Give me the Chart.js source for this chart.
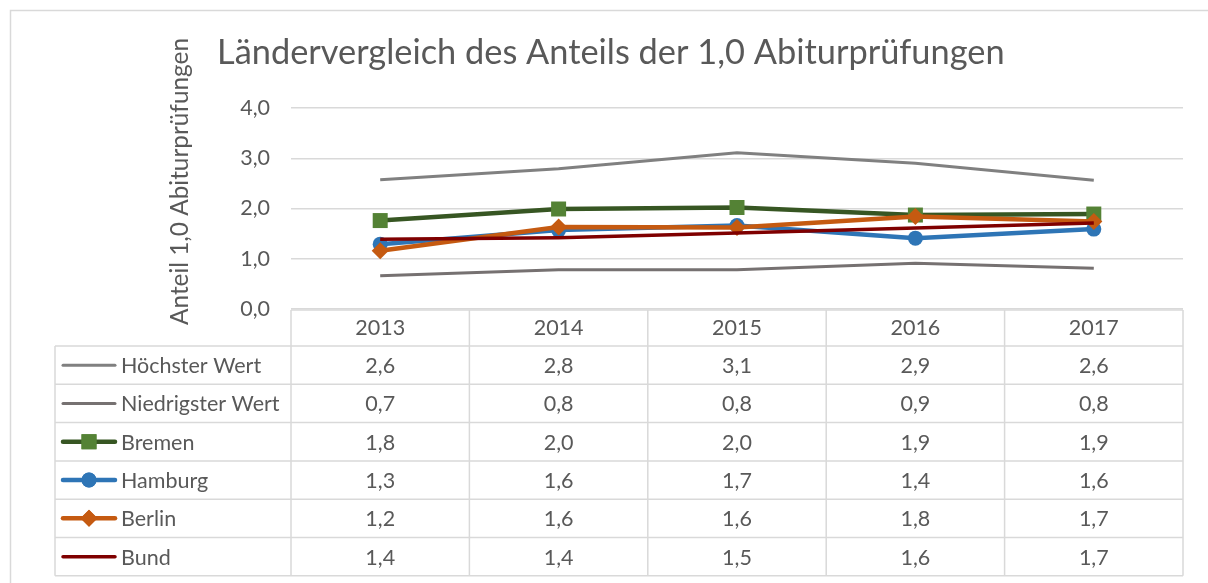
<!DOCTYPE html>
<html>
<head>
<meta charset="utf-8">
<script src="https://cdn.jsdelivr.net/npm/chart.js@4/dist/chart.umd.min.js"></script>
<style>
  html, body { margin: 0; padding: 0; background: #ffffff; }
  #wrap { width: 1208px; height: 583px; position: relative; }
</style>
</head>
<body>
<div id="wrap"><canvas id="c" width="1208" height="583"></canvas></div>
<script>
// ---- data ----
const categories = ['2013', '2014', '2015', '2016', '2017'];
const seriesNames = ['Höchster Wert', 'Niedrigster Wert', 'Bremen', 'Hamburg', 'Berlin', 'Bund'];
const hoechster   = [2.57, 2.79, 3.11, 2.90, 2.56];
const niedrigster = [0.66, 0.78, 0.78, 0.91, 0.81];
const bremen      = [1.76, 1.99, 2.02, 1.87, 1.89];
const hamburg     = [1.29, 1.57, 1.66, 1.41, 1.59];
const berlin      = [1.16, 1.63, 1.62, 1.84, 1.74];
const bund        = [1.39, 1.42, 1.51, 1.61, 1.71];
const yTickValues = [0, 1, 2, 3, 4];
const titleText = 'Ländervergleich des Anteils der 1,0 Abiturprüfungen';
const yTitleText = 'Anteil 1,0 Abiturprüfungen';

// ---- styles ----
const FONT = 'Lato, "Open Sans", sans-serif';
const TEXT = '#595959';
const GRID = '#d9d9d9';
const LABEL_SIZE = 21.5;

const styles = [
  { line: '#808080', width: 3,   point: false },
  { line: '#767171', width: 3,   point: false },
  { line: '#375623', width: 4.5, point: 'rect',    fill: '#548235', r: 10.6 },
  { line: '#2e75b6', width: 4.5, point: 'circle',  fill: '#2e75b6', r: 7.5 },
  { line: '#c55a11', width: 4.5, point: 'rectRot', fill: '#c55a11', r: 8.5 },
  { line: '#7f0000', width: 3.5, point: false }
];
const seriesData = [hoechster, niedrigster, bremen, hamburg, berlin, bund];

const fmt = v => v.toFixed(1).replace('.', ',');

function fitSize(ctx, text, targetWidth, family) {
  ctx.font = '100px ' + family;
  return 100 * targetWidth / ctx.measureText(text).width;
}

const datasets = seriesData.map((d, i) => {
  const s = styles[i];
  return {
    label: seriesNames[i],
    data: d,
    borderColor: s.line,
    borderWidth: s.width,
    backgroundColor: s.fill || s.line,
    pointStyle: s.point || 'circle',
    pointRadius: s.point ? s.r : 0,
    pointBorderWidth: 0,
    pointBackgroundColor: s.fill || s.line,
    pointBorderColor: s.fill || s.line,
    tension: 0,
    order: seriesData.length - i,
    clip: false
  };
});

const decorPlugin = {
  id: 'decor',
  beforeDraw(chart) {
    const ctx = chart.ctx;
    ctx.save();
    ctx.fillStyle = '#ffffff';
    ctx.fillRect(0, 0, chart.width, chart.height);
    // outer frame
    ctx.strokeStyle = GRID;
    ctx.lineWidth = 1.5;
    ctx.beginPath();
    ctx.moveTo(10.5, chart.height + 5);
    ctx.lineTo(10.5, 10.5);
    ctx.lineTo(chart.width + 5, 10.5);
    ctx.stroke();
    ctx.restore();
  },
  afterDraw(chart) {
    const ctx = chart.ctx;
    const area = chart.chartArea;
    const xs = chart.scales.x;
    ctx.save();
    // main title
    const ts = fitSize(ctx, titleText, 788, FONT);
    ctx.font = ts + 'px ' + FONT;
    ctx.fillStyle = TEXT;
    ctx.textAlign = 'left';
    ctx.textBaseline = 'alphabetic';
    ctx.fillText(titleText, 217, 64);
    // y title
    const ys = fitSize(ctx, yTitleText, 287, FONT);
    ctx.font = ys + 'px ' + FONT;
    ctx.translate(188, 181.5);
    ctx.rotate(-Math.PI / 2);
    ctx.textAlign = 'center';
    ctx.fillText(yTitleText, 0, 0);
    ctx.setTransform(1, 0, 0, 1, 0, 0);

    // data table
    const n = categories.length;
    const colW = (area.right - area.left) / n;
    const top = area.bottom + 1;
    const headH = 36;
    const rowH = 38.3;
    const tableBottom = top + headH + rowH * seriesNames.length;
    const legLeft = 55;
    ctx.strokeStyle = GRID;
    ctx.lineWidth = 1.5;
    ctx.beginPath();
    ctx.moveTo(area.left, top); ctx.lineTo(area.right, top);
    for (let i = 0; i <= n; i++) {
      const x = area.left + i * colW;
      ctx.moveTo(x, top); ctx.lineTo(x, tableBottom);
    }
    for (let r = 0; r <= seriesNames.length; r++) {
      const y = top + headH + r * rowH;
      ctx.moveTo(legLeft, y); ctx.lineTo(area.right, y);
    }
    ctx.moveTo(legLeft, top + headH); ctx.lineTo(legLeft, tableBottom);
    ctx.stroke();

    ctx.font = LABEL_SIZE + 'px ' + FONT;
    ctx.fillStyle = TEXT;
    ctx.textBaseline = 'middle';
    ctx.textAlign = 'center';
    categories.forEach((c, i) => {
      ctx.fillText(c, xs.getPixelForValue(i), top + headH / 2);
    });
    seriesNames.forEach((name, r) => {
      const cy = top + headH + r * rowH + rowH / 2;
      const s = styles[r];
      ctx.strokeStyle = s.line;
      ctx.lineWidth = s.width;
      ctx.lineCap = 'round';
      ctx.beginPath();
      ctx.moveTo(63, cy); ctx.lineTo(115, cy);
      ctx.stroke();
      if (s.point) {
        ctx.fillStyle = s.fill;
        ctx.strokeStyle = s.fill;
        Chart.helpers.drawPoint(ctx, { pointStyle: s.point, radius: s.r, rotation: 0, borderWidth: 0 }, 89, cy);
        ctx.fill();
      }
      ctx.fillStyle = TEXT;
      ctx.textAlign = 'left';
      ctx.fillText(name, 121, cy + 1);
      ctx.textAlign = 'center';
      seriesData[r].forEach((v, i) => {
        ctx.fillText(fmt(v), xs.getPixelForValue(i), cy + 1);
      });
    });
    ctx.restore();
  }
};

function build() {
  new Chart(document.getElementById('c'), {
    type: 'line',
    data: { labels: categories, datasets },
    options: {
      responsive: false,
      animation: false,
      events: [],
      layout: { padding: { left: 0, right: 25, top: 108, bottom: 274 } },
      plugins: { legend: { display: false }, tooltip: { enabled: false }, title: { display: false } },
      scales: {
        x: { display: false, offset: true },
        y: {
          min: 0, max: 4,
          afterFit(scale) { scale.width = 291; },
          afterBuildTicks(scale) { scale.ticks = yTickValues.map(v => ({ value: v })); },
          border: { display: false },
          grid: { color: GRID, lineWidth: 1.5, drawTicks: false },
          ticks: {
            padding: 21,
            color: TEXT,
            font: { family: FONT, size: LABEL_SIZE },
            callback: v => fmt(v)
          }
        }
      }
    },
    plugins: [decorPlugin]
  });
}

if (document.fonts && document.fonts.load) {
  Promise.all([document.fonts.load('20px Lato')]).then(build, build);
} else {
  build();
}
</script>
</body>
</html>
